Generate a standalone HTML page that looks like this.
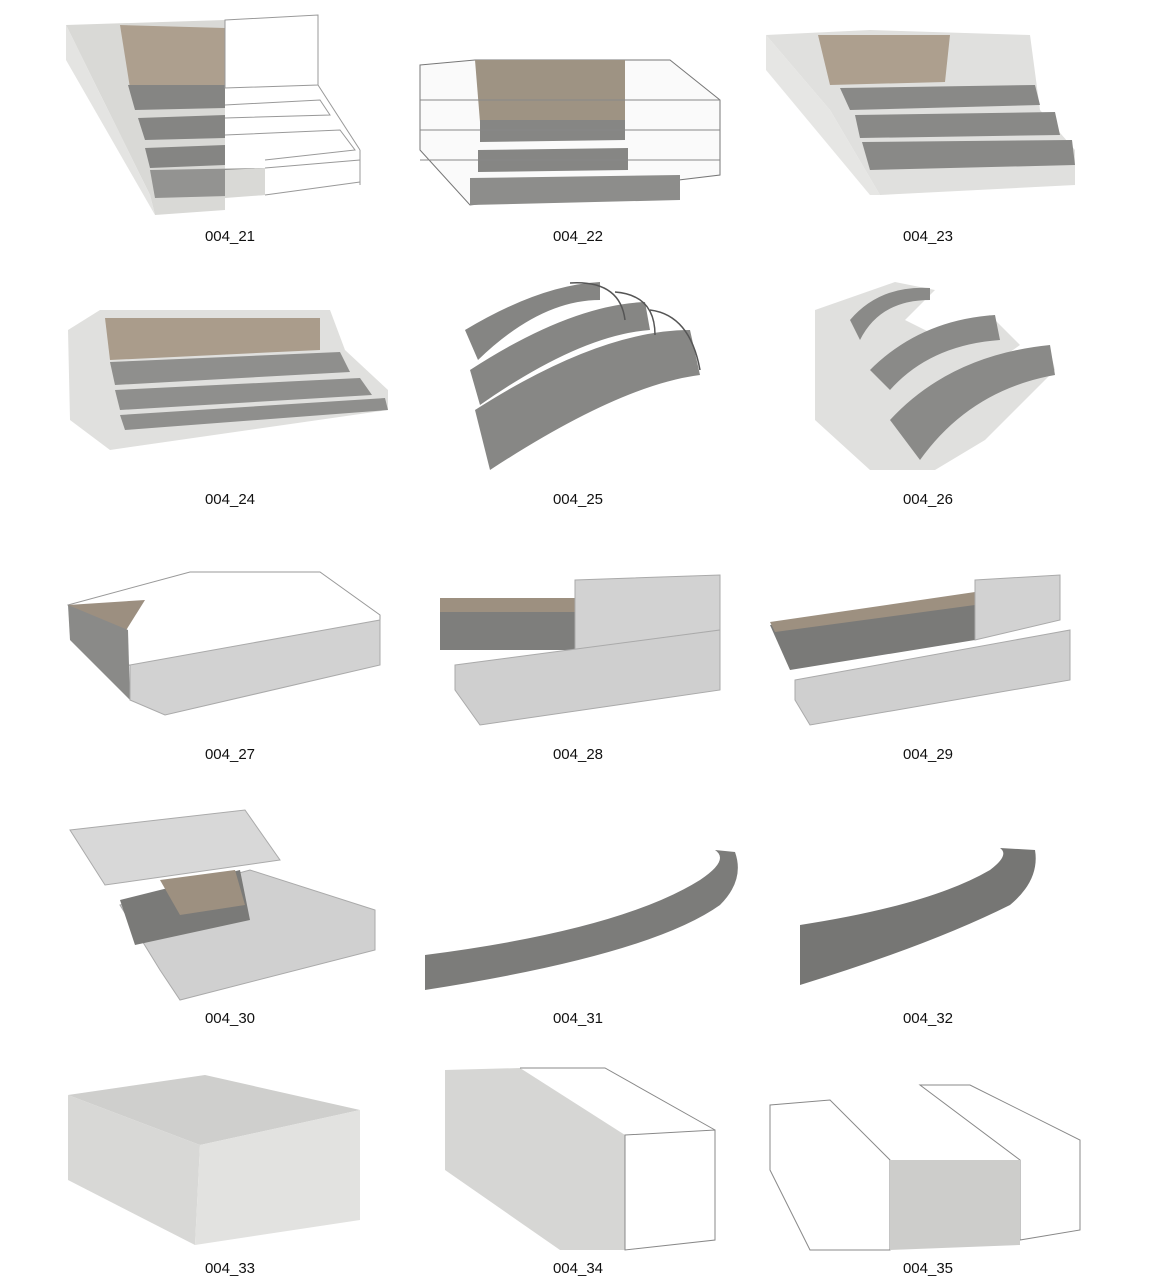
<!DOCTYPE html>
<html><head><meta charset="utf-8"><style>
html,body{margin:0;padding:0;background:#fff;}
svg{display:block}
text{font-family:"Liberation Sans",sans-serif;font-size:15px;fill:#111;text-anchor:middle}
</style></head><body>
<svg width="1159" height="1287" viewBox="0 0 1159 1287" xmlns="http://www.w3.org/2000/svg">
<!-- 004_21 -->
<polygon points="66,25 225,20 225,210 155,215 150,195" fill="#d9d9d6"/>
<polygon points="66,25 150,195 155,215 66,60" fill="#e4e4e2"/>
<polygon points="120,25 225,28 225,88 130,88" fill="#ad9f8e"/>
<polygon points="128,85 225,85 225,108 135,110" fill="#858583"/>
<polygon points="138,118 225,115 225,138 145,140" fill="#858583"/>
<polygon points="145,148 225,145 225,165 150,168" fill="#858583"/>
<polygon points="150,170 265,168 265,195 155,198" fill="#939391"/>
<polygon points="225,198 265,195 265,168 225,170" fill="#d9d9d6"/>
<g stroke="#999" fill="none" stroke-width="1"><polygon points="225,20 318,15 318,85 225,88"/><polyline points="225,105 320,100 330,115 225,118"/><polyline points="225,135 340,130 355,150 265,160"/><line x1="265" y1="168" x2="360" y2="160"/><line x1="265" y1="195" x2="360" y2="182"/><line x1="318" y1="85" x2="360" y2="150"/><line x1="360" y1="150" x2="360" y2="185"/></g>
<text x="230" y="241">004_21</text>
<!-- 004_22 -->
<polygon points="420,65 475,60 670,60 720,100 720,175 470,205 420,150" fill="#fafafa" stroke="#777"/>
<polygon points="475,60 625,60 625,120 480,122" fill="#9e9383"/>
<polygon points="480,120 625,120 625,140 480,142" fill="#868684"/>
<polygon points="478,150 628,148 628,170 478,172" fill="#868684"/>
<polygon points="470,178 680,175 680,200 470,205" fill="#8d8d8b"/>
<g stroke="#888" fill="none"><line x1="420" y1="100" x2="720" y2="100"/><line x1="420" y1="130" x2="720" y2="130"/><line x1="420" y1="160" x2="720" y2="160"/></g>
<text x="578" y="241">004_22</text>
<!-- 004_23 -->
<polygon points="766,35 870,30 1030,35 1040,110 1075,150 1075,185 880,195 830,110" fill="#e0e0de"/>
<polygon points="766,35 830,110 880,195 870,195 766,70" fill="#e6e6e4"/>
<polygon points="818,35 950,35 945,82 830,85" fill="#ad9f8e"/>
<polygon points="840,88 1035,85 1040,105 850,110" fill="#898987"/>
<polygon points="855,115 1055,112 1060,135 860,138" fill="#898987"/>
<polygon points="862,142 1072,140 1075,165 870,170" fill="#898987"/>
<text x="928" y="241">004_23</text>
<!-- 004_24 -->
<polygon points="68,330 100,310 330,310 345,350 388,390 388,410 110,450 70,420" fill="#e0e0de"/>
<polygon points="105,318 320,318 320,350 110,360" fill="#aa9c8b"/>
<polygon points="110,362 340,352 350,372 115,385" fill="#8f8f8d"/>
<polygon points="115,390 360,378 372,395 120,410" fill="#8f8f8d"/>
<polygon points="120,415 385,398 388,410 125,430" fill="#8f8f8d"/>
<text x="230" y="504">004_24</text>
<!-- 004_25 -->
<path d="M465,330 Q540,285 600,282 L600,300 Q540,300 478,360 Z" fill="#858583"/>
<path d="M470,370 Q570,305 645,302 L650,330 Q580,335 480,405 Z" fill="#868684"/>
<path d="M475,410 Q600,330 690,330 L700,375 Q620,385 490,470 Z" fill="#878785"/>
<g stroke="#555" fill="none" stroke-width="1.5"><path d="M570,283 Q620,280 625,320"/><path d="M615,292 Q655,295 655,335"/><path d="M650,310 Q690,315 700,370"/></g>
<text x="578" y="504">004_25</text>
<!-- 004_26 -->
<polygon points="815,310 895,282 935,290 905,320 935,335 990,315 1020,345 985,370 1050,350 1055,370 985,440 935,470 870,470 815,420" fill="#e0e0de"/>
<path d="M850,320 Q880,285 930,288 L930,300 Q880,300 860,340 Z" fill="#8a8a88"/>
<path d="M870,370 Q920,320 995,315 L1000,340 Q930,345 890,390 Z" fill="#8a8a88"/>
<path d="M890,420 Q950,355 1050,345 L1055,375 Q970,390 920,460 Z" fill="#8a8a88"/>
<text x="928" y="504">004_26</text>
<!-- 004_27 -->
<polygon points="68,605 190,572 320,572 380,615 380,650 180,700 100,645" fill="#fff" stroke="#999"/>
<polygon points="68,605 145,600 125,632 100,630" fill="#9c8f80"/>
<polygon points="68,605 128,630 130,700 70,640" fill="#8a8a88"/>
<polygon points="130,665 380,620 380,665 165,715 130,700" fill="#d2d2d2" stroke="#aaa"/>
<text x="230" y="759">004_27</text>
<!-- 004_28 -->
<polygon points="440,600 575,600 575,650 440,650" fill="#7e7e7c"/>
<polygon points="440,598 575,598 575,612 440,612" fill="#9d9080"/>
<polygon points="575,580 720,575 720,650 575,650" fill="#d2d2d2" stroke="#aaa"/>
<polygon points="455,665 720,630 720,690 480,725 455,690" fill="#cfcfcf" stroke="#aaa"/>
<text x="578" y="759">004_28</text>
<!-- 004_29 -->
<polygon points="770,625 975,595 975,640 790,670" fill="#7a7a78"/>
<polygon points="770,622 975,592 975,605 775,632" fill="#9d9080"/>
<polygon points="975,580 1060,575 1060,620 975,640" fill="#d2d2d2" stroke="#aaa"/>
<polygon points="795,680 1070,630 1070,680 810,725 795,700" fill="#cfcfcf" stroke="#aaa"/>
<text x="928" y="759">004_29</text>
<!-- 004_30 -->
<polygon points="70,830 245,810 280,860 105,885" fill="#d8d8d8" stroke="#aaa"/>
<polygon points="120,905 250,870 375,910 375,950 180,1000 160,970" fill="#d0d0d0" stroke="#aaa"/>
<polygon points="120,900 240,870 250,920 135,945" fill="#7a7a78"/>
<polygon points="160,880 235,870 245,905 180,915" fill="#9d9080"/>
<text x="230" y="1023">004_30</text>
<!-- 004_31 -->
<path d="M425,955 Q620,930 700,880 Q730,860 715,850 L735,852 Q745,880 720,905 Q650,955 425,990 Z" fill="#7c7c7a"/>
<text x="578" y="1023">004_31</text>
<!-- 004_32 -->
<path d="M800,925 Q930,905 990,870 Q1010,855 1000,848 L1035,850 Q1040,880 1010,905 Q930,945 800,985 Z" fill="#767674"/>
<text x="928" y="1023">004_32</text>
<!-- 004_33 -->
<polygon points="68,1095 205,1075 360,1110 200,1145" fill="#cfcfcd"/>
<polygon points="68,1095 200,1145 195,1245 68,1180" fill="#d8d8d6"/>
<polygon points="200,1145 360,1110 360,1220 195,1245" fill="#e2e2e0"/>
<text x="230" y="1273">004_33</text>
<!-- 004_34 -->
<polygon points="445,1070 520,1068 625,1135 625,1250 560,1250 445,1170" fill="#d6d6d4"/>
<polygon points="625,1135 715,1130 715,1240 625,1250" fill="#fff" stroke="#888"/>
<g stroke="#888" fill="none"><polyline points="520,1068 605,1068 715,1130"/></g>
<text x="578" y="1273">004_34</text>
<!-- 004_35 -->
<g stroke="#888" fill="none"><polygon points="770,1105 830,1100 890,1160 890,1250 810,1250 770,1170"/><polygon points="920,1085 970,1085 1080,1140 1080,1230 1020,1240 1020,1160"/></g>
<polygon points="890,1160 1020,1160 1020,1245 890,1250" fill="#cdcdcb"/>
<text x="928" y="1273">004_35</text>
</svg>
</body></html>
